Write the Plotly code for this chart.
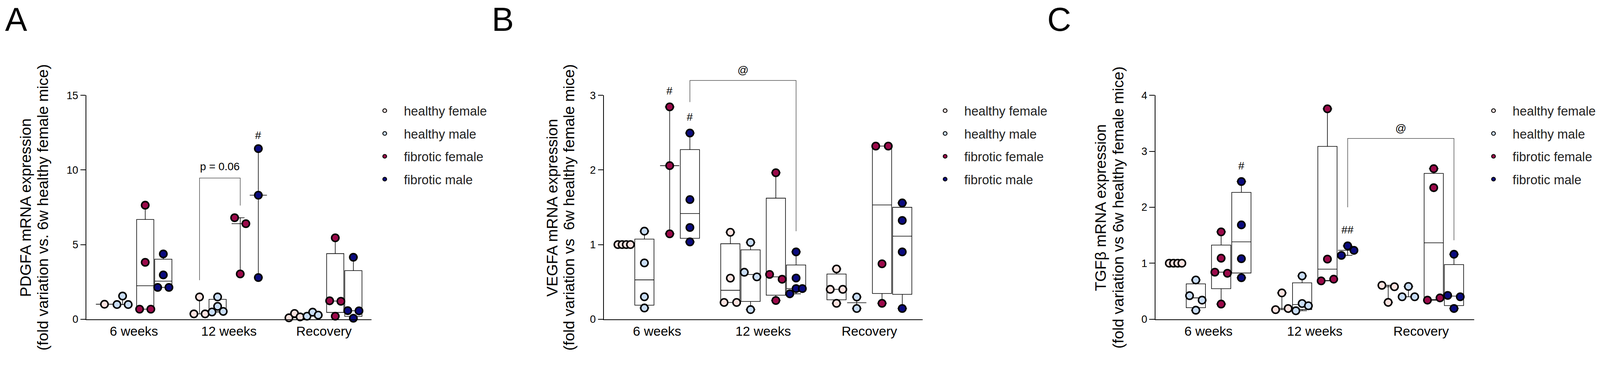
import numpy as np
import plotly.graph_objects as go

# reference frame (all positions below are measured in this frame)
W, H = 4263, 976
# the page is captured with a ~4% zoom; build the figure 1/1.04 smaller so it fills the frame
S = 1 / 1.04
FONT = "Liberation Sans, Arial, Helvetica, sans-serif"

# ---------------- data ----------------
timepoints = ["6 weeks", "12 weeks", "Recovery"]
series = ["healthy female", "healthy male", "fibrotic female", "fibrotic male"]
colors = ["#FCE3E0", "#C9DDF5", "#9B0A4A", "#0B0B7E"]

# Panel A: PDGFA (one list per time point, per series)
pdgfa_hf = [[1.0], [0.353, 1.49, 0.353], [0.09, 0.38, 0.15]]
pdgfa_hm = [[0.98, 1.55, 0.98], [1.49, 0.479, 0.857, 0.52], [0.20, 0.47, 0.27]]
pdgfa_ff = [[7.64, 3.81, 0.67, 0.67], [6.80, 6.40, 3.03], [5.45, 1.23, 1.20, 0.20]]
pdgfa_fm = [[4.37, 2.965, 2.13, 2.13], [11.43, 8.31, 2.79], [4.15, 0.57, 0.56, 0.06]]

# Panel B: VEGFA
vegfa_hf = [[1.0, 1.0, 1.0, 1.0], [1.165, 0.55, 0.224, 0.224], [0.673, 0.40, 0.40, 0.212]]
vegfa_hm = [[1.18, 0.754, 0.30, 0.15], [1.029, 0.629, 0.567, 0.128], [0.297, 0.143]]
vegfa_ff = [[2.846, 2.058, 1.144], [1.963, 0.60, 0.535, 0.25], [2.32, 2.32, 0.742, 0.212]]
vegfa_fm = [[2.496, 1.603, 1.229, 1.036], [0.902, 0.551, 0.34, 0.41, 0.41], [1.558, 1.323, 0.902, 0.143]]

# Panel C: TGFbeta
tgfb_hf = [[1.0, 1.0, 1.0, 1.0], [0.17, 0.469, 0.19], [0.605, 0.58, 0.30]]
tgfb_hm = [[0.70, 0.42, 0.34, 0.16], [0.773, 0.28, 0.15, 0.24], [0.585, 0.40, 0.40]]
tgfb_ff = [[1.56, 1.09, 0.84, 0.82, 0.27], [3.76, 1.074, 0.684, 0.715], [2.69, 2.35, 0.34, 0.38]]
tgfb_fm = [[2.46, 1.685, 1.08, 0.74], [1.14, 1.23, 1.31], [1.16, 0.425, 0.40, 0.19]]

# significance marks: (text, time point index, series index, y)
marks_A = [("#", 1, 3, 12.33), ("p = 0.06", 1, None, 10.24)]
marks_B = [("#", 0, 2, 3.06), ("#", 0, 3, 2.71)]
marks_C = [("#", 0, 3, 2.745), ("##", 1, 3, 1.596)]
# brackets: ((tp, series) left, (tp, series) right, top y, left-leg bottom, right-leg bottom, label, label y)
brackets_A = [((1, 0), (1, 2), 9.46, 2.61, 7.62, None, None)]
brackets_B = [((0, 3), (1, 3), 3.20, 2.91, 1.18, "@", 3.34)]
brackets_C = [((1, 3), (2, 3), 3.23, 2.00, 1.41, "@", 3.41)]

# ---------------- layout constants ----------------
SUB = [0.0, 1.0, 2.25, 3.25]
STEP = 5.25
XR = [-1.0, 2 * STEP + SUB[-1] + 1.0]
Y_TOP_PX, Y_BOT_PX = 254.3, 850.7
YDOM = [1 - Y_BOT_PX / H, 1 - Y_TOP_PX / H]


def px(v):
    return v * S


def xpos(tp, s):
    return tp * STEP + SUB[s]


def swarm(vals, px_per_unit, thresh=17.0, half=0.31):
    n = len(vals)
    order = sorted(range(n), key=lambda i: vals[i])
    rows, cur = [], []
    for i in order:
        if cur and (vals[i] - vals[cur[0]]) * px_per_unit > thresh:
            rows.append(cur)
            cur = []
        cur.append(i)
    if cur:
        rows.append(cur)
    offs = [0.0] * n
    for r in rows:
        r = sorted(r)
        k = len(r)
        if k > 1:
            for j, i in enumerate(r):
                offs[i] = -half + 2 * half * j / (k - 1)
    return offs


panels = [
    dict(name="A", data=[pdgfa_hf, pdgfa_hm, pdgfa_ff, pdgfa_fm], ymax=15, dtick=5,
         xpx=(230, 989), tx=(68, 114),
         title=["PDGFA mRNA expression", "(fold variation vs. 6w healthy female mice)"],
         letter_x=43, legend_right=1302, marks=marks_A, brackets=brackets_A),
    dict(name="B", data=[vegfa_hf, vegfa_hm, vegfa_ff, vegfa_fm], ymax=3, dtick=1,
         xpx=(1608, 2456), tx=(1470, 1515),
         title=["VEGFA mRNA expression", "(fold variation vs  6w healthy female mice)"],
         letter_x=1339, legend_right=2794, marks=marks_B, brackets=brackets_B),
    dict(name="C", data=[tgfb_hf, tgfb_hm, tgfb_ff, tgfb_fm], ymax=4, dtick=1,
         xpx=(3076, 3925), tx=(2930, 2977),
         title=["TGFβ mRNA expression", "(fold variation vs 6w healthy female mice)"],
         letter_x=2820, legend_right=4254, marks=marks_C, brackets=brackets_C),
]

fig = go.Figure()
annotations, shapes = [], []
layout = {}

for pi, P in enumerate(panels):
    sfx = "" if pi == 0 else str(pi + 1)
    xa, ya = "x" + sfx, "y" + sfx
    leg = "legend" + sfx
    ymax = P["ymax"]
    px_per_unit = (Y_BOT_PX - Y_TOP_PX) / ymax

    # boxes first (drawn under the points)
    for si in range(4):
        xs, q1s, meds, q3s, los, his = [], [], [], [], [], []
        for tp in range(3):
            v = np.array(P["data"][si][tp], dtype=float)
            med = float(np.median(v))
            if len(v) >= 4:
                q1, q3 = np.percentile(v, [25, 75], method="weibull")
            else:
                q1 = q3 = med
            xs.append(xpos(tp, si))
            q1s.append(float(q1)); meds.append(med); q3s.append(float(q3))
            los.append(float(v.min())); his.append(float(v.max()))
        fig.add_trace(go.Box(
            x=xs, q1=q1s, median=meds, q3=q3s, lowerfence=los, upperfence=his,
            width=0.95, whiskerwidth=0.5, fillcolor="white",
            line=dict(color="black", width=px(1.6)), boxpoints=False,
            showlegend=False, hoverinfo="skip", xaxis=xa, yaxis=ya))

    for si in range(4):
        xs, ys = [], []
        for tp in range(3):
            v = P["data"][si][tp]
            offs = swarm(v, px_per_unit)
            xs += [xpos(tp, si) + o for o in offs]
            ys += list(v)
        fig.add_trace(go.Scatter(
            x=xs, y=ys, mode="markers", cliponaxis=False, showlegend=False,
            marker=dict(size=px(19.5), color=colors[si],
                        line=dict(color="black", width=px(4))),
            hoverinfo="skip", xaxis=xa, yaxis=ya))

    # legend-only entries
    for si in range(4):
        fig.add_trace(go.Scatter(
            x=[None], y=[None], mode="markers", name=series[si],
            marker=dict(size=px(10), color=colors[si],
                        line=dict(color="black", width=px(2.4))),
            legend=leg, legendgroup=P["name"] + series[si], showlegend=True,
            xaxis=xa, yaxis=ya))

    layout["xaxis" + sfx] = dict(
        domain=[P["xpx"][0] / W, P["xpx"][1] / W], range=XR, anchor=ya,
        showgrid=False, zeroline=False, showline=True, linecolor="black", linewidth=px(2),
        ticks="", tickmode="array",
        tickvals=[xpos(tp, 0) + (SUB[1] + SUB[2]) / 2 for tp in range(3)],
        ticktext=timepoints, tickfont=dict(size=px(35), color="black", family=FONT))
    layout["yaxis" + sfx] = dict(
        domain=YDOM, range=[0, ymax], anchor=xa, dtick=P["dtick"], tick0=0,
        showgrid=False, zeroline=False, showline=True, linecolor="black", linewidth=px(2),
        ticks="outside", ticklen=px(14), tickwidth=px(2), tickcolor="black",
        tickfont=dict(size=px(28), color="black", family=FONT))
    layout[leg] = dict(
        x=P["legend_right"] / W, xanchor="right", y=1 - 266 / H, yanchor="top",
        bgcolor="rgba(0,0,0,0)", borderwidth=0, itemwidth=88, tracegroupgap=13,
        font=dict(size=px(34), color="#222", family=FONT), itemclick=False)

    # axis titles (two rotated lines) and panel letter
    for li, line in enumerate(P["title"]):
        annotations.append(dict(
            text=line, xref="paper", yref="paper", x=P["tx"][li] / W, y=1 - 553 / H,
            textangle=-90, xanchor="center", yanchor="middle", showarrow=False,
            font=dict(size=px(41), color="black", family=FONT)))
    annotations.append(dict(
        text=P["name"], xref="paper", yref="paper", x=P["letter_x"] / W, y=1 - 52 / H,
        xanchor="center", yanchor="middle", showarrow=False,
        font=dict(size=px(88), color="black", family=FONT)))

    def mark(text, xv, yv):
        yin = min(yv, ymax)
        annotations.append(dict(
            text=text, x=xv, y=yin, yshift=px((yv - yin) * px_per_unit),
            xref=xa, yref=ya, showarrow=False, xanchor="center", yanchor="middle",
            font=dict(size=px(29), color="black", family=FONT)))

    for text, tp, si, yv in P["marks"]:
        xv = (xpos(tp, 0) + xpos(tp, 2)) / 2 if si is None else xpos(tp, si)
        mark(text, xv, yv)

    for (l, r, top, lb, rb, lab, laby) in P["brackets"]:
        x0, x1 = xpos(*l), xpos(*r)
        f = lambda v: v / ymax
        shapes.append(dict(
            type="path", xref=xa, yref=ya + " domain",
            path=f"M {x0},{f(lb)} L {x0},{f(top)} L {x1},{f(top)} L {x1},{f(rb)}",
            line=dict(color="#333", width=px(1.3))))
        if lab:
            mark(lab, (x0 + x1) / 2, laby)

fig.update_layout(
    width=round(W * S), height=round(H * S),
    margin=dict(l=0, r=0, t=0, b=0, pad=0, autoexpand=False),
    paper_bgcolor="white", plot_bgcolor="white",
    font=dict(family=FONT, color="black"),
    boxmode="overlay", annotations=annotations, shapes=shapes, **layout)

fig.write_html(
    "out.html",
    config={"displayModeBar": False},
    post_script="document.body.style.margin='0';document.body.style.overflow='hidden';")
